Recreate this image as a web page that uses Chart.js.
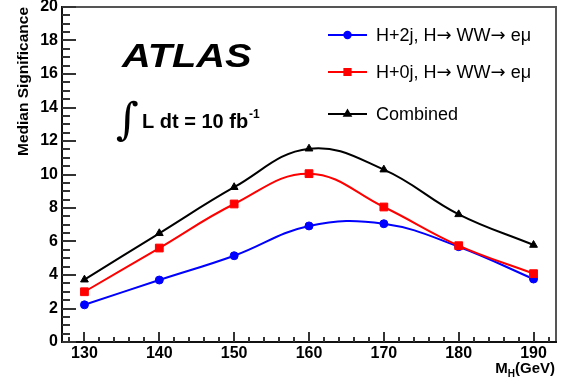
<!DOCTYPE html>
<html>
<head>
<meta charset="utf-8">
<script src="https://cdn.jsdelivr.net/npm/chart.js@4.4.1/dist/chart.umd.min.js"></script>
<style>
html, body { margin: 0; padding: 0; background: #fff; }
</style>
</head>
<body>
<canvas id="c" width="563" height="381"></canvas>
<script>
// Higgs mass points and expected median significance
const massPoints = [130, 140, 150, 160, 170, 180, 190];
const sigH2j = [2.22, 3.70, 5.15, 6.93, 7.06, 5.69, 3.76];
const sigH0j = [3.00, 5.61, 8.24, 10.05, 8.06, 5.75, 4.08];
const sigCombined = [3.72, 6.49, 9.24, 11.54, 10.29, 7.62, 5.79];
const seriesLabels = ['H+2j, H\u2192 WW\u2192 e\u03bc', 'H+0j, H\u2192 WW\u2192 e\u03bc', 'Combined'];
const xTickValues = [130, 140, 150, 160, 170, 180, 190];
const yTickValues = [0, 2, 4, 6, 8, 10, 12, 14, 16, 18, 20];

const FONT = '"Liberation Sans", Arial, Helvetica, sans-serif';

function pts(ys) {
    return massPoints.map((m, i) => ({ x: m, y: ys[i] }));
}

// draw a label, arrows in DejaVu so they sit on the math axis like ROOT's
function drawMixed(ctx, text, x, y, size) {
    for (const ch of text) {
        ctx.font = (ch === '\u2192' ? size + 'px "DejaVu Sans"' : size + 'px ' + FONT);
        ctx.fillText(ch, x, y);
        x += ctx.measureText(ch).width;
    }
}

// inward ticks, frame, labels and legend drawn like the ROOT canvas
const atlasDecor = {
    id: 'atlasDecor',
    afterDraw(chart) {
        const ctx = chart.ctx;
        const a = chart.chartArea;
        const xs = chart.scales.x, ys = chart.scales.y;
        ctx.save();

        // frame
        ctx.fillStyle = '#555';
        ctx.fillRect(a.left, a.top - 1, a.right - a.left, 2);
        ctx.fillRect(a.right - 1, a.top - 1, 2, a.bottom - a.top + 1);
        ctx.fillStyle = '#111';
        ctx.fillRect(a.left - 1, a.top - 1, 2, a.bottom - a.top + 2);
        ctx.fillRect(a.left - 1, a.bottom - 1, a.right - a.left + 2, 2);

        // ticks
        ctx.fillStyle = '#333';
        for (let v = 128; v <= 192; v += 2) {
            const px = Math.round(xs.getPixelForValue(v));
            const len = v % 10 === 0 ? 10 : 5;
            ctx.fillRect(px - 1, a.bottom - len, 2, len);
        }
        for (let v = 0; v <= 20; v += 0.5) {
            const py = Math.round(ys.getPixelForValue(v));
            const len = v % 2 === 0 ? 14 : 8;
            ctx.fillRect(a.left, py - 1, len, 2);
        }

        // x title with subscript
        ctx.fillStyle = '#000';
        ctx.textBaseline = 'alphabetic';
        ctx.textAlign = 'left';
        const big = 'bold 15px ' + FONT, small = 'bold 10px ' + FONT;
        ctx.font = big;
        const wM = ctx.measureText('M').width;
        const wG = ctx.measureText('(GeV)').width;
        ctx.font = small;
        const wH = ctx.measureText('H').width;
        let tx = a.right - 1 - (wM + wH + wG);
        ctx.font = big;
        ctx.fillText('M', tx, 373);
        ctx.font = small;
        ctx.fillText('H', tx + wM, 377);
        ctx.font = big;
        ctx.fillText('(GeV)', tx + wM + wH, 373);

        // ATLAS label, a bit wider like the ROOT font
        ctx.save();
        ctx.translate(122, 67);
        ctx.scale(1.17, 1);
        ctx.font = 'italic bold 34px ' + FONT;
        ctx.fillText('ATLAS', 0, 0);
        ctx.restore();

        // luminosity
        ctx.font = '44px "DejaVu Serif", "Liberation Serif", serif';
        ctx.fillText('\u222B', 116, 134);
        ctx.font = 'bold 20px ' + FONT;
        ctx.fillText('L dt = 10 fb', 142, 128);
        const wl = ctx.measureText('L dt = 10 fb').width;
        ctx.font = 'bold 12px ' + FONT;
        ctx.fillText('-1', 142 + wl + 1, 118);

        // legend
        const rows = [35, 72, 114];
        chart.data.datasets.forEach((ds, i) => {
            const y = rows[i];
            ctx.strokeStyle = ds.borderColor;
            ctx.lineWidth = 2;
            ctx.beginPath();
            ctx.moveTo(328, y);
            ctx.lineTo(367, y);
            ctx.stroke();
            ctx.fillStyle = ds.backgroundColor;
            Chart.helpers.drawPoint(ctx, {
                pointStyle: ds.pointStyle, radius: ds.pointRadius * 0.8,
                rotation: 0, borderWidth: 1
            }, 347.5, y);
            ctx.fillStyle = '#000';
            ctx.textBaseline = 'middle';
            drawMixed(ctx, ds.label, 376, y + 1, 18);
        });
        ctx.restore();
    }
};

new Chart(document.getElementById('c'), {
    type: 'line',
    data: {
        datasets: [{
            label: seriesLabels[0],
            data: pts(sigH2j),
            borderColor: '#0000ff',
            backgroundColor: '#0000ff',
            pointStyle: 'circle',
            pointRadius: 4,
            order: 3
        }, {
            label: seriesLabels[1],
            data: pts(sigH0j),
            borderColor: '#ff0000',
            backgroundColor: '#ff0000',
            pointStyle: 'rect',
            pointRadius: 5.5,
            order: 2
        }, {
            label: seriesLabels[2],
            data: pts(sigCombined),
            borderColor: '#000000',
            backgroundColor: '#000000',
            pointStyle: 'triangle',
            pointRadius: 4.5,
            order: 1
        }]
    },
    options: {
        responsive: false,
        animation: false,
        devicePixelRatio: 1,
        layout: { padding: { top: 7, right: 7, left: 0, bottom: 0 } },
        elements: {
            line: { borderWidth: 2, tension: 0.4, fill: false },
            point: { borderWidth: 1, hoverRadius: 4 }
        },
        plugins: {
            legend: { display: false },
            tooltip: { enabled: false }
        },
        scales: {
            x: {
                type: 'linear',
                min: 127,
                max: 193,
                grid: { display: false, drawTicks: false },
                border: { display: false },
                afterBuildTicks(scale) {
                    scale.ticks = xTickValues.map(v => ({ value: v }));
                },
                afterFit(scale) {
                    scale.height = 39;
                    scale.paddingLeft = 0;
                    scale.paddingRight = 0;
                },
                ticks: {
                    color: '#000',
                    padding: 2,
                    maxRotation: 0,
                    autoSkip: false,
                    font: { family: FONT, size: 16, weight: 'bold' }
                }
            },
            y: {
                min: 0,
                max: 20,
                grid: { display: false, drawTicks: false },
                border: { display: false },
                afterBuildTicks(scale) {
                    scale.ticks = yTickValues.map(v => ({ value: v }));
                },
                afterFit(scale) {
                    scale.width = 62;
                    scale.paddingTop = 0;
                    scale.paddingBottom = 0;
                },
                ticks: {
                    color: '#000',
                    padding: 4,
                    autoSkip: false,
                    font: { family: FONT, size: 16, weight: 'bold' }
                },
                title: {
                    display: true,
                    text: 'Median Significance',
                    align: 'end',
                    color: '#000',
                    padding: { top: 14 },
                    font: { family: FONT, size: 15.5, weight: 'bold' }
                }
            }
        }
    },
    plugins: [atlasDecor]
});
</script>
</body>
</html>
